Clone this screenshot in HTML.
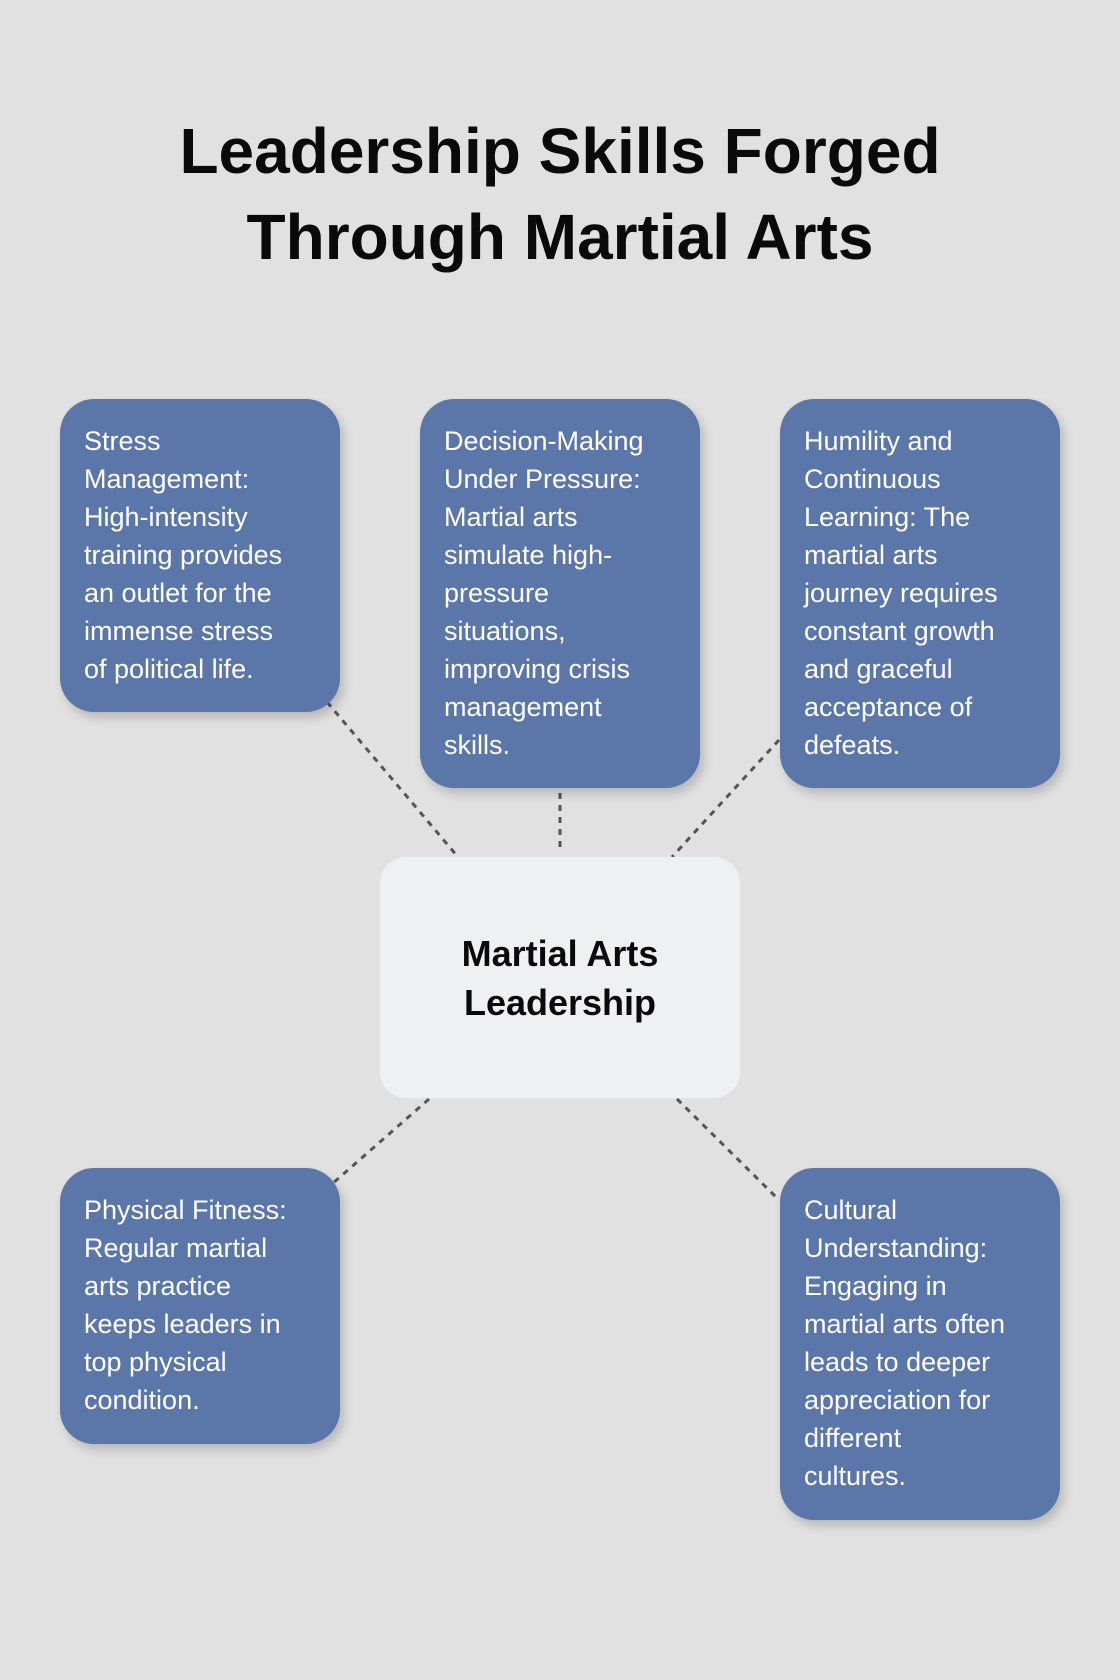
<!DOCTYPE html>
<html><head><meta charset="utf-8"><style>
html,body{margin:0;padding:0}
body{width:1120px;height:1680px;background:#e0e1e0;position:relative;overflow:hidden;font-family:"Liberation Sans",sans-serif}
.title{position:absolute;left:0;width:1120px;top:108px;text-align:center;font-weight:bold;font-size:64px;line-height:86px;color:#0a0a0a}
.box{position:absolute;background:#5b76a8;border-radius:34px;color:#fff;font-size:27px;line-height:38px;padding:23px 0 0 24px;box-sizing:border-box;white-space:nowrap;box-shadow:4px 6px 10px rgba(0,0,0,0.18)}
.center{position:absolute;left:380px;top:857px;width:360px;height:241px;background:#eff0f2;border-radius:26px;display:flex;align-items:center;justify-content:center;text-align:center;font-weight:bold;font-size:36px;line-height:49px;color:#0a0a0a}
svg{position:absolute;left:0;top:0}
</style></head><body>
<div class="title">Leadership Skills Forged<br>Through Martial Arts</div>
<svg width="1120" height="1680"><g stroke="#555" stroke-width="3" stroke-dasharray="6,6" fill="none">
<line x1="327" y1="702" x2="458" y2="857"/>
<line x1="560" y1="793" x2="560" y2="852"/>
<line x1="779" y1="740" x2="672" y2="857"/>
<line x1="429" y1="1099" x2="332" y2="1184"/>
<line x1="677" y1="1099" x2="779" y2="1200"/>
</g></svg>
<div class="box" style="left:60px;top:399px;width:280px;height:313px">Stress<br>Management:<br>High-intensity<br>training provides<br>an outlet for the<br>immense stress<br>of political life.</div>
<div class="box" style="left:420px;top:399px;width:280px;height:389px">Decision-Making<br>Under Pressure:<br>Martial arts<br>simulate high-<br>pressure<br>situations,<br>improving crisis<br>management<br>skills.</div>
<div class="box" style="left:780px;top:399px;width:280px;height:389px">Humility and<br>Continuous<br>Learning: The<br>martial arts<br>journey requires<br>constant growth<br>and graceful<br>acceptance of<br>defeats.</div>
<div class="center">Martial Arts<br>Leadership</div>
<div class="box" style="left:60px;top:1168px;width:280px;height:276px">Physical Fitness:<br>Regular martial<br>arts practice<br>keeps leaders in<br>top physical<br>condition.</div>
<div class="box" style="left:780px;top:1168px;width:280px;height:352px">Cultural<br>Understanding:<br>Engaging in<br>martial arts often<br>leads to deeper<br>appreciation for<br>different<br>cultures.</div>
</body></html>
